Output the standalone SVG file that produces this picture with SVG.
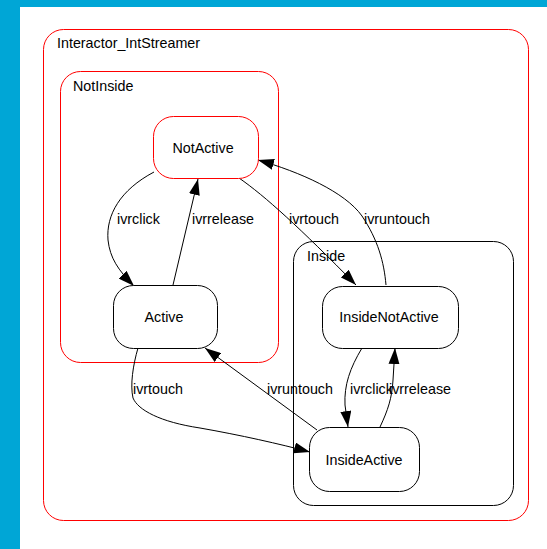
<svg xmlns="http://www.w3.org/2000/svg" width="547" height="549" viewBox="0 0 547 549">
  <defs>
    <marker id="arrow" markerUnits="userSpaceOnUse" markerWidth="16" markerHeight="11" refX="16" refY="5.5" orient="auto">
      <path d="M0,0 L16,5.5 L0,11 z" fill="#000"/>
    </marker>
    <style>
      text { font-family: "Liberation Sans", Arial, sans-serif; font-size: 14.3px; fill: #000; }
      .cluster { fill: none; stroke: #ff0000; stroke-width: 1; }
      .cluster-black { fill: none; stroke: #000; stroke-width: 1; }
      .state { fill: #fff; stroke: #000; stroke-width: 1; }
      .state-red { fill: #fff; stroke: #ff0000; stroke-width: 1; }
      .edge { fill: none; stroke: #000; stroke-width: 1; marker-end: url(#arrow); }
      .mid { text-anchor: middle; }
    </style>
  </defs>

  <!-- frame -->
  <rect x="0" y="0" width="547" height="549" fill="#00a6d6"/>
  <rect x="20" y="7" width="527" height="542" fill="#fff"/>

  <!-- clusters -->
  <g id="cluster_Interactor_IntStreamer">
    <rect class="cluster" x="43.5" y="29.5" width="485" height="491" rx="20" ry="20"/>
    <text x="57" y="48">Interactor_IntStreamer</text>
  </g>
  <g id="cluster_NotInside">
    <rect class="cluster" x="60.5" y="71.5" width="218" height="291" rx="20" ry="20"/>
    <text x="73" y="91">NotInside</text>
  </g>
  <g id="cluster_Inside">
    <rect class="cluster-black" x="293.5" y="241.5" width="220" height="264" rx="20" ry="20"/>
    <text x="307" y="261">Inside</text>
  </g>

  <!-- connectors -->
  <g id="edges">
    <path class="edge" d="M154,172 C120,190 106,215 108,240 C110,258 118,270 134,286"/>
    <text x="117" y="224">ivrclick</text>

    <path class="edge" d="M173,285 L198,179"/>
    <text x="192" y="224">ivrrelease</text>

    <path class="edge" d="M239,178 C265,196 300,228 356,285"/>
    <text x="289" y="224">ivrtouch</text>

    <path class="edge" d="M386,285 C384,262 378,240 362,216 C345,192 300,172 258,160"/>
    <text x="364" y="224">ivruntouch</text>

    <path class="edge" d="M362,348 C350,368 344,385 345,405 L348,427"/>
    <text x="350" y="394">ivrclick</text>

    <path class="edge" d="M380,427 C388,410 392,398 393,380 L395,348"/>
    <text x="389" y="394">ivrrelease</text>

    <path class="edge" d="M138,348 C133,365 130,385 133,398 C138,410 160,422 200,428 C240,435 280,444 310,452"/>
    <text x="133" y="394">ivrtouch</text>

    <path class="edge" d="M317,430 L205,348"/>
    <text x="267" y="394">ivruntouch</text>
  </g>

  <!-- states -->
  <g id="NotActive">
    <rect class="state-red" x="153.5" y="116.5" width="105" height="62" rx="20" ry="20"/>
    <text class="mid" x="203" y="153">NotActive</text>
  </g>
  <g id="Active">
    <rect class="state" x="113.5" y="285.5" width="104" height="63" rx="20" ry="20"/>
    <text class="mid" x="164" y="322">Active</text>
  </g>
  <g id="InsideNotActive">
    <rect class="state" x="322.5" y="286.5" width="136" height="62" rx="20" ry="20"/>
    <text class="mid" x="389" y="322">InsideNotActive</text>
  </g>
  <g id="InsideActive">
    <rect class="state" x="309.5" y="427.5" width="110" height="64" rx="20" ry="20"/>
    <text class="mid" x="364" y="465">InsideActive</text>
  </g>
</svg>
